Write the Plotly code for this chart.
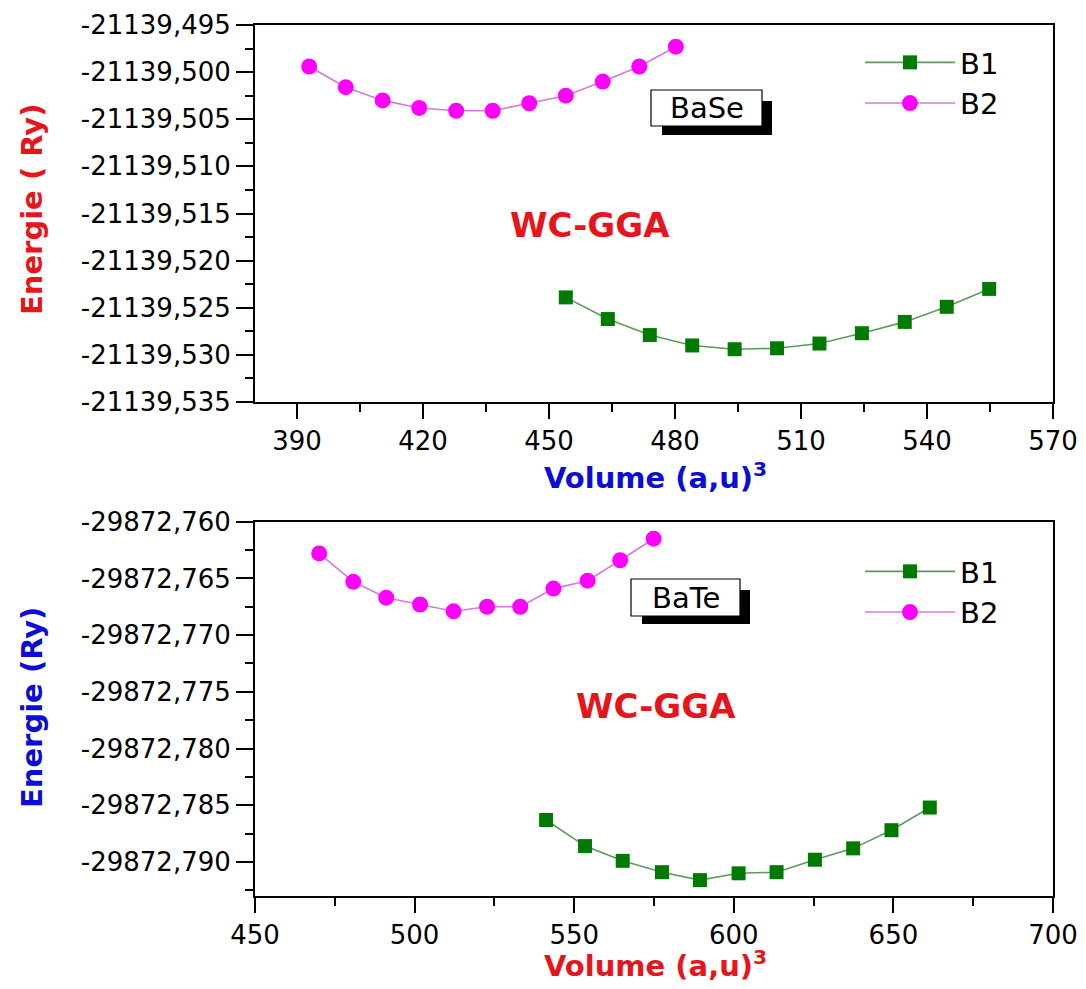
import plotly.graph_objects as go

# ---------------- data ----------------
# BaSe (top panel)
base_b1_vol = [454.0, 464.0, 474.0, 484.1, 494.2, 504.3, 514.4, 524.5, 534.7, 544.7, 554.8]
base_b1_e = [-21139.5239, -21139.5262, -21139.5279, -21139.5290, -21139.5294, -21139.5293,
             -21139.5288, -21139.5277, -21139.5265, -21139.5249, -21139.5230]
base_b2_vol = [392.9, 401.6, 410.4, 419.1, 427.9, 436.6, 445.3, 454.0, 462.8, 471.5, 480.2]
base_b2_e = [-21139.4994, -21139.5016, -21139.5030, -21139.5038, -21139.5041, -21139.5041,
             -21139.5033, -21139.5025, -21139.5010, -21139.4994, -21139.4973]

# BaTe (bottom panel)
bate_b1_vol = [541.2, 553.4, 565.2, 577.5, 589.4, 601.5, 613.4, 625.4, 637.4, 649.4, 661.4]
bate_b1_e = [-29872.7863, -29872.7886, -29872.7899, -29872.7909, -29872.7916, -29872.7910,
             -29872.7909, -29872.7898, -29872.7888, -29872.7872, -29872.7852]
bate_b2_vol = [470.1, 480.8, 491.1, 501.7, 512.2, 522.7, 533.1, 543.5, 554.2, 564.4, 574.9]
bate_b2_e = [-29872.7628, -29872.7653, -29872.7667, -29872.7673, -29872.7679, -29872.7675,
             -29872.7675, -29872.7659, -29872.7652, -29872.7634, -29872.7615]

# tick values / labels
top_x_ticks = [390, 420, 450, 480, 510, 540, 570]
top_x_labels = ["390", "420", "450", "480", "510", "540", "570"]
top_y_ticks = [-21139.495, -21139.500, -21139.505, -21139.510, -21139.515,
               -21139.520, -21139.525, -21139.530, -21139.535]
top_y_labels = ["-21139,495", "-21139,500", "-21139,505", "-21139,510", "-21139,515",
                "-21139,520", "-21139,525", "-21139,530", "-21139,535"]
bot_x_ticks = [450, 500, 550, 600, 650, 700]
bot_x_labels = ["450", "500", "550", "600", "650", "700"]
bot_y_ticks = [-29872.760, -29872.765, -29872.770, -29872.775, -29872.780,
               -29872.785, -29872.790]
bot_y_labels = ["-29872,760", "-29872,765", "-29872,770", "-29872,775", "-29872,780",
                "-29872,785", "-29872,790"]

# ---------------- layout helpers ----------------
W, H = 1086, 989
L, R, T, B = 255, 33, 25, 93
PW = W - L - R
PH = H - T - B


def px(xp):
    return (xp - L) / PW


def py(yp):
    return (H - B - yp) / PH


FONT = "DejaVu Sans, Liberation Sans, Arial, sans-serif"
GREEN = "#007a00"
GREEN_LINE = "#5e9a5e"
MAG = "#ff00ff"
MAG_LINE = "#d77ad7"
RED = "#e8141b"
BLUE = "#0c0cd8"

fig = go.Figure()

fig.add_trace(go.Scatter(x=base_b1_vol, y=base_b1_e, name="B1", mode="lines+markers",
                         line=dict(color=GREEN_LINE, width=1.6),
                         marker=dict(symbol="square", size=14, color=GREEN),
                         xaxis="x", yaxis="y", legend="legend"))
fig.add_trace(go.Scatter(x=base_b2_vol, y=base_b2_e, name="B2", mode="lines+markers",
                         line=dict(color=MAG_LINE, width=1.6),
                         marker=dict(symbol="circle", size=16, color=MAG),
                         xaxis="x", yaxis="y", legend="legend"))
fig.add_trace(go.Scatter(x=bate_b1_vol, y=bate_b1_e, name="B1", mode="lines+markers",
                         line=dict(color=GREEN_LINE, width=1.6),
                         marker=dict(symbol="square", size=14, color=GREEN),
                         xaxis="x2", yaxis="y2", legend="legend2"))
fig.add_trace(go.Scatter(x=bate_b2_vol, y=bate_b2_e, name="B2", mode="lines+markers",
                         line=dict(color=MAG_LINE, width=1.6),
                         marker=dict(symbol="circle", size=16, color=MAG),
                         xaxis="x2", yaxis="y2", legend="legend2"))

axis_common = dict(showline=True, linecolor="black", linewidth=2, mirror=True,
                   ticks="outside", tickwidth=2, tickcolor="black",
                   showgrid=False, zeroline=False, automargin=False,
                   tickfont=dict(family=FONT, size=26, color="black"))
minor_common = dict(ticks="outside", ticklen=8, tickwidth=1.8, tickcolor="black", showgrid=False)

fig.update_layout(
    width=W, height=H,
    margin=dict(l=L, r=R, t=T, b=B, autoexpand=False),
    paper_bgcolor="white", plot_bgcolor="white",
    font=dict(family=FONT, color="black"),
    xaxis=dict(domain=[0, 1], anchor="y", range=[380, 570], ticklen=15,
               tickmode="array", tickvals=top_x_ticks, ticktext=top_x_labels,
               minor=dict(tick0=375, dtick=15, **minor_common),
               **axis_common),
    yaxis=dict(domain=[py(402), 1], anchor="x", range=[-21139.535, -21139.495], ticklen=17,
               tickmode="array", tickvals=top_y_ticks, ticktext=top_y_labels,
               minor=dict(tick0=-21139.535, dtick=0.0025, **minor_common),
               **axis_common),
    xaxis2=dict(domain=[0, 1], anchor="y2", range=[450, 700], ticklen=15,
                tickmode="array", tickvals=bot_x_ticks, ticktext=bot_x_labels,
                minor=dict(tick0=450, dtick=25, **minor_common),
                **axis_common),
    yaxis2=dict(domain=[0, py(521.7)], anchor="x2", range=[-29872.793, -29872.760], ticklen=17,
                tickmode="array", tickvals=bot_y_ticks, ticktext=bot_y_labels,
                minor=dict(tick0=-29872.795, dtick=0.0025, **minor_common),
                **axis_common),
    legend=dict(x=px(860), y=py(37), xanchor="left", yanchor="top",
                bgcolor="rgba(0,0,0,0)", font=dict(family=FONT, size=29, color="black"),
                itemwidth=90, tracegroupgap=0),
    legend2=dict(x=px(860), y=py(546), xanchor="left", yanchor="top",
                 bgcolor="rgba(0,0,0,0)", font=dict(family=FONT, size=29, color="black"),
                 itemwidth=90, tracegroupgap=0),
    showlegend=True,
)

shapes = []
annotations = []


def label_box(x0, y0, x1, y1, sx, sy, text):
    shapes.append(dict(type="rect", xref="paper", yref="paper",
                       x0=px(x0 + 11), x1=px(x1 + sx), y0=py(y0 + 11), y1=py(y1 + sy),
                       fillcolor="black", line=dict(width=0), layer="above"))
    shapes.append(dict(type="rect", xref="paper", yref="paper",
                       x0=px(x0), x1=px(x1), y0=py(y0), y1=py(y1),
                       fillcolor="white", line=dict(color="black", width=1.2), layer="above"))
    annotations.append(dict(text=text, xref="paper", yref="paper",
                            x=px((x0 + x1) / 2), y=py((y0 + y1) / 2),
                            xanchor="center", yanchor="middle", showarrow=False,
                            font=dict(family=FONT, size=29, color="black")))


label_box(651, 90, 762, 126, 10, 9, "BaSe")
label_box(631, 579, 740, 616, 10, 8, "BaTe")

bold = dict(family=FONT, size=29, weight="bold")
big = dict(family=FONT, size=34, weight="bold")
annotations += [
    dict(text="WC-GGA", x=px(590), y=py(225), font=dict(color=RED, **big)),
    dict(text="WC-GGA", x=px(656), y=py(706), font=dict(color=RED, **big)),
    dict(text="Energie ( Ry)", x=px(32), y=py(210), textangle=-90, font=dict(color=RED, **bold)),
    dict(text="Energie (Ry)", x=px(32), y=py(708), textangle=-90, font=dict(color=BLUE, **bold)),
    dict(text="Volume (a,u)<sup>3</sup>", x=px(655), y=py(476), font=dict(color=BLUE, **bold)),
    dict(text="Volume (a,u)<sup>3</sup>", x=px(655), y=py(964), font=dict(color=RED, **bold)),
]
for a in annotations[-6:]:
    a.update(xref="paper", yref="paper", xanchor="center", yanchor="middle", showarrow=False)

fig.update_layout(shapes=shapes, annotations=annotations)

fig.write_html("out.html")
